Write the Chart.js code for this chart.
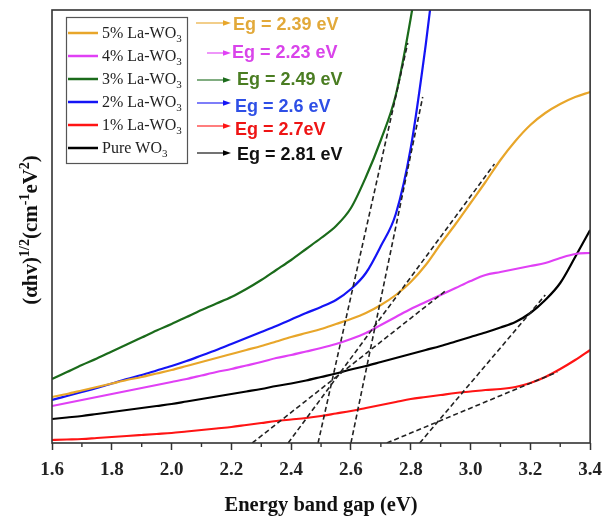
<!DOCTYPE html>
<html><head><meta charset="utf-8">
<script src="https://cdn.jsdelivr.net/npm/chart.js@4.4.1/dist/chart.umd.min.js"></script>
<style>html,body{margin:0;padding:0;background:#fff;}#wrap{width:611px;height:519px;position:relative;}</style>
</head><body><div id="wrap"><canvas id="c" width="611" height="519"></canvas></div>
<script>
// Photon energy (eV)
const energy = [1.60,1.65,1.70,1.75,1.80,1.85,1.90,1.95,2.00,2.05,2.10,2.15,2.20,2.25,2.30,2.35,2.40,2.45,2.50,2.55,2.60,2.65,2.70,2.75,2.80,2.85,2.90,2.95,3.00,3.05,3.10,3.15,3.20,3.25,3.30,3.35,3.40];
// (alpha h v)^1/2, arbitrary units
const la5 = [46,49,52.5,56,59.5,63,66,69.5,73,77,81,85,89,93,97,101.5,106,110,114,119,124,130,138,148,161,178,199,219,240,261,283,302,318,330,339,346,351];
const la4 = [37,40,43,46,49,52,55,58,61,64,67.5,71,74,77.5,81,85,88,91.5,95,99,104,110,118,126,134,141,148,155,162,168,171,174,177,180,185,189,190];
const la3 = [64,71,78,84.5,91.5,98.5,105.5,112.5,119,126,133,139.5,146,154,163,173,183,194,205,217,235,266,303,348,425,520,null,null,null,null,null,null,null,null,null,null,null];
const la2 = [43,47,51,55,59.5,64,68,72.5,77,82,87.5,93,99,105,111,117,123.5,130,136,143,154,170,197,229,295,398,520,null,null,null,null,null,null,null,null,null,null];
const la1 = [3,3.5,4,5,6,7,8,9,10,11.5,13,14.5,16,18,20,22,23.5,25,27,29.5,32,35,38,41,44,46,48,50,51.5,53,54,56,60,66,74,83,93];
const pure = [24,25.5,27,29,31,33,35,37,39,41.5,44,46.5,49,51.5,54,57,59.5,62.5,66,69.5,73.5,77,81,85,89,93,97,101.5,106,110.5,115.5,121,130,143,160,186,213];

const seriesNames = ['5% La-WO','4% La-WO','3% La-WO','2% La-WO','1% La-WO','Pure WO'];
const seriesSub = ['3','3','3','3','3','3'];
const bandGapLabels = ['Eg = 2.39 eV','Eg = 2.23 eV','Eg = 2.49 eV','Eg = 2.6 eV','Eg = 2.7eV','Eg = 2.81 eV'];
// Tauc extrapolation lines (same series order): x-intercept and end point
const tangentStartE = [2.39, 2.27, 2.49, 2.60, 2.72, 2.83];
const tangentEndE = [3.08, 2.92, 2.79, 2.84, 3.29, 3.25];
const tangentEndValue = [279, 153, 400, 346, 71, 148];
const xTickValues = [1.6,1.8,2.0,2.2,2.4,2.6,2.8,3.0,3.2,3.4];

const seriesValues = [la5, la4, la3, la2, la1, pure];
const lineColors = ['#e8a62a','#e040f5','#1b6b1b','#1414f5','#ff1414','#000000'];
const textColors = ['#e2a93a','#d944ea','#4a7d22','#2e4fe6','#ee1414','#111111'];

const datasets = [];
seriesValues.forEach((vals, i) => {
  datasets.push({
    label: seriesNames[i] + seriesSub[i],
    data: energy.map((e, k) => ({x: e, y: vals[k]})),
    borderColor: lineColors[i], borderWidth: 2.2, pointRadius: 0,
    cubicInterpolationMode: 'monotone', spanGaps: false, order: 2
  });
});
tangentStartE.forEach((s, i) => {
  datasets.push({
    label: 'fit ' + i,
    data: [{x: s, y: 0}, {x: tangentEndE[i], y: tangentEndValue[i]}],
    borderColor: '#222', borderWidth: 1.6, borderDash: [5, 3], pointRadius: 0, order: 1
  });
});

const SERIF = '"Liberation Serif", "Times New Roman", serif';
const SANS = '"Liberation Sans", Arial, sans-serif';

function drawArrow(ctx, x1, x2, y, color) {
  ctx.strokeStyle = color; ctx.fillStyle = color; ctx.lineWidth = 1.1;
  ctx.beginPath(); ctx.moveTo(x1, y); ctx.lineTo(x2 - 6, y); ctx.stroke();
  ctx.beginPath(); ctx.moveTo(x2, y); ctx.lineTo(x2 - 8, y - 2.8); ctx.lineTo(x2 - 8, y + 2.8); ctx.closePath(); ctx.fill();
}

const decor = {
  id: 'decor',
  afterDatasetsDraw(chart) {
    const ctx = chart.ctx, a = chart.chartArea, xs = chart.scales.x;
    ctx.save();
    // frame
    ctx.strokeStyle = '#333'; ctx.lineWidth = 1.6;
    ctx.strokeRect(a.left, a.top, a.right - a.left, a.bottom - a.top);
    // minor ticks
    ctx.lineWidth = 1.4;
    for (let i = 0; i < xTickValues.length - 1; i++) {
      const v = (xTickValues[i] + xTickValues[i + 1]) / 2;
      const px = xs.getPixelForValue(v);
      ctx.beginPath(); ctx.moveTo(px, a.bottom); ctx.lineTo(px, a.bottom + 4); ctx.stroke();
    }
    // legend box
    ctx.strokeStyle = '#555'; ctx.lineWidth = 1.2;
    ctx.strokeRect(66.5, 17.5, 121, 146);
    const rowY = [33, 56, 79, 102, 125, 148];
    const arrowX1 = [196, 207, 197, 197, 197, 197];
    const arrowY = [23, 53, 80, 103, 126, 153];
    const egX = [233, 232, 237, 235, 235, 237];
    const egY = [25, 53, 80, 107, 130, 155];
    for (let i = 0; i < 6; i++) {
      ctx.strokeStyle = lineColors[i]; ctx.lineWidth = 2.5;
      ctx.beginPath(); ctx.moveTo(68, rowY[i]); ctx.lineTo(98, rowY[i]); ctx.stroke();
      ctx.fillStyle = '#222'; ctx.textBaseline = 'alphabetic'; ctx.textAlign = 'left';
      ctx.font = '16px ' + SERIF;
      ctx.fillText(seriesNames[i], 102, rowY[i] + 5);
      const w = ctx.measureText(seriesNames[i]).width;
      ctx.font = '11px ' + SERIF;
      ctx.fillText(seriesSub[i], 102 + w, rowY[i] + 9);
      drawArrow(ctx, arrowX1[i], 231, arrowY[i], lineColors[i]);
      ctx.fillStyle = textColors[i]; ctx.font = 'bold 18px ' + SANS; ctx.textBaseline = 'middle';
      ctx.fillText(bandGapLabels[i], egX[i], egY[i]);
    }
    // y-axis title with superscripts
    const segs = [['(αhv)', 0], ['1/2', 1], ['(cm', 0], ['-1', 1], ['eV', 0], ['2', 1], [')', 0]];
    const mainF = 'bold 21px ' + SERIF, supF = 'bold 14px ' + SERIF;
    let total = 0;
    segs.forEach(s => { ctx.font = s[1] ? supF : mainF; total += ctx.measureText(s[0]).width; });
    ctx.translate(0, 230); ctx.rotate(-Math.PI / 2);
    let px = -total / 2;
    ctx.fillStyle = '#111'; ctx.textBaseline = 'alphabetic'; ctx.textAlign = 'left';
    segs.forEach(s => {
      ctx.font = s[1] ? supF : mainF;
      ctx.fillText(s[0], px, s[1] ? 29 : 37);
      px += ctx.measureText(s[0]).width;
    });
    ctx.restore();
  }
};

new Chart(document.getElementById('c'), {
  type: 'line',
  data: { datasets },
  options: {
    responsive: false, animation: false,
    layout: { padding: { top: 10, right: 17, left: 0, bottom: 0 } },
    plugins: { legend: { display: false }, tooltip: { enabled: false } },
    scales: {
      x: {
        type: 'linear', min: 1.6, max: 3.4,
        afterBuildTicks: (s) => { s.ticks = xTickValues.map(v => ({ value: v })); },
        afterFit: (s) => { s.height = 76; },
        ticks: { callback: (v) => Number(v).toFixed(1), color: '#222', padding: 9,
                 font: { family: SERIF, size: 19, weight: 'bold' }, maxRotation: 0, autoSkip: false },
        grid: { drawOnChartArea: false, drawTicks: true, tickLength: 7, tickWidth: 1.5, tickColor: '#333' },
        border: { display: false },
        title: { display: true, text: 'Energy band gap (eV)', color: '#111',
                 font: { family: SERIF, size: 20.5, weight: 'bold' }, padding: { top: 0, bottom: 1 } }
      },
      y: {
        min: 0, max: 433,
        afterFit: (s) => { s.width = 52; },
        ticks: { display: false },
        grid: { display: false },
        border: { display: false }
      }
    }
  },
  plugins: [decor]
});
</script>
</body></html>
